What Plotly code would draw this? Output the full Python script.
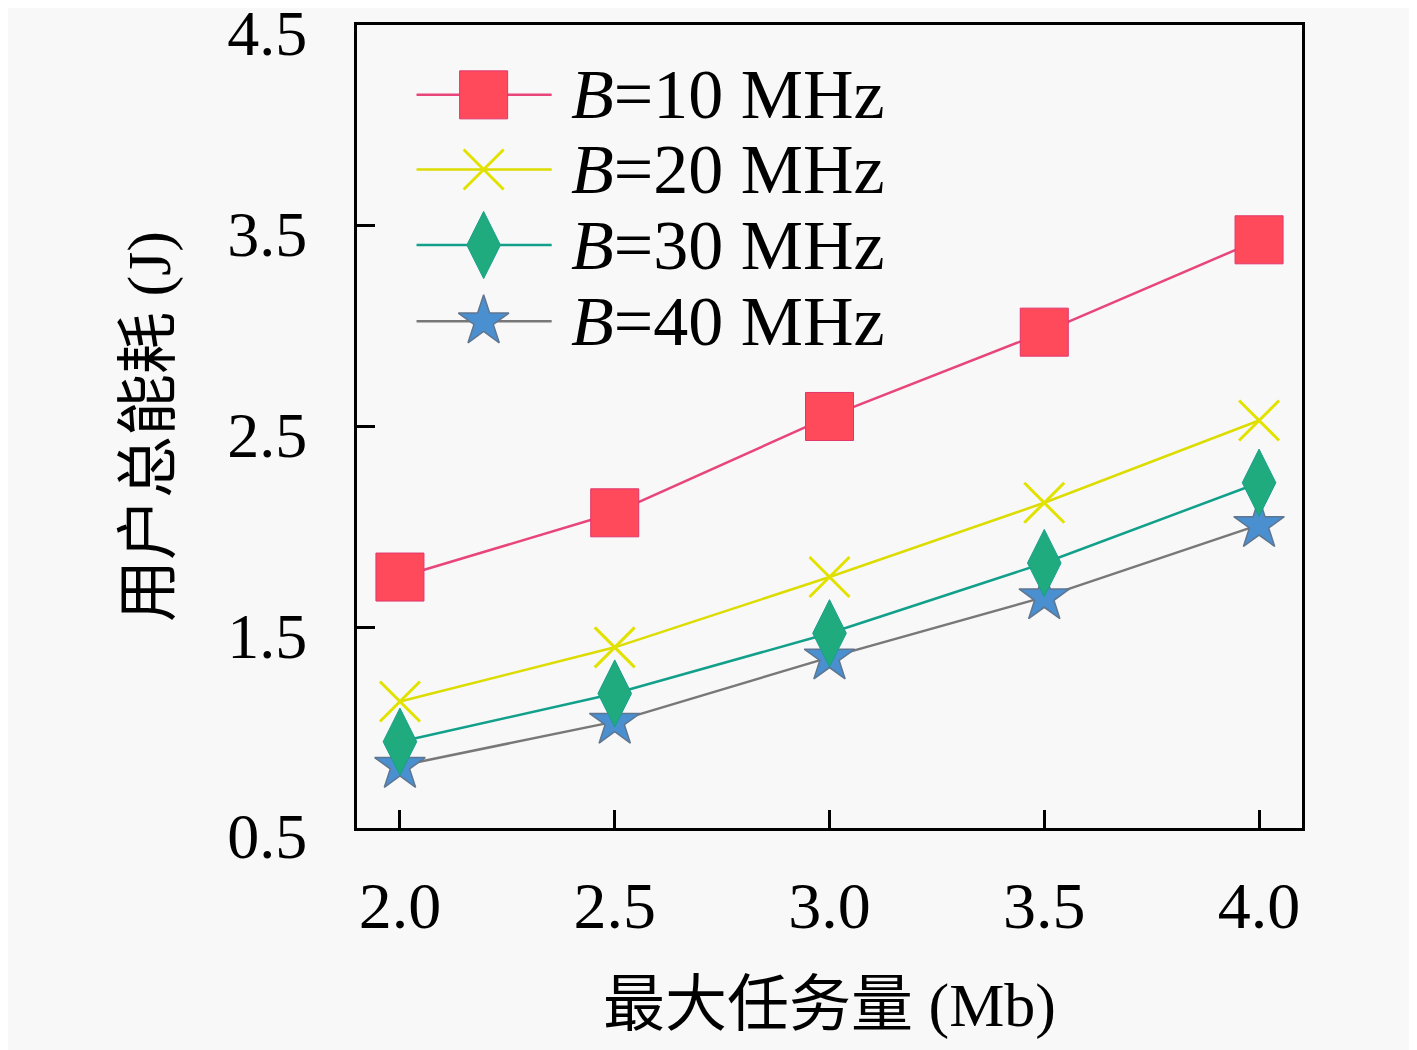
import plotly.graph_objects as go

# max task size (Mb)
task_sizes = [2.0, 2.5, 3.0, 3.5, 4.0]

# total user energy consumption (J) per bandwidth
energy_b10 = [1.75, 2.07, 2.55, 2.97, 3.43]
energy_b20 = [1.13, 1.40, 1.75, 2.12, 2.53]
energy_b30 = [0.93, 1.17, 1.47, 1.82, 2.22]
energy_b40 = [0.81, 1.03, 1.35, 1.65, 2.01]

series_names = ["<i>B</i>=10 MHz", "<i>B</i>=20 MHz", "<i>B</i>=30 MHz", "<i>B</i>=40 MHz"]

x_ticks = [2.0, 2.5, 3.0, 3.5, 4.0]
x_tick_labels = ["2.0", "2.5", "3.0", "3.5", "4.0"]
y_ticks = [0.5, 1.5, 2.5, 3.5, 4.5]
y_tick_labels = ["0.5", "1.5", "2.5", "3.5", "4.5"]

styles = [
    dict(line="#e8457a", fill="#ff4a5c", edge="#e0356a", symbol="square", size=48, lw=1),
    dict(line="#dcdc00", fill="#e6e600", edge="#e2e200", symbol="x-thin", size=40, lw=3),
    dict(line="#12a08a", fill="#1fab7d", edge="#17a08c", symbol="diamond-tall", size=48, lw=1),
    dict(line="#787878", fill="#4a8fd0", edge="#5f7690", symbol="star", size=38, lw=1.5),
]

all_series = [energy_b10, energy_b20, energy_b30, energy_b40]

SERIF = "Liberation Serif, Noto Sans CJK SC, serif"
BG = "#f8f8f8"

fig = go.Figure()

# draw B=40 first so that earlier series sit on top
for name, vals, st in reversed(list(zip(series_names, all_series, styles))):
    fig.add_trace(go.Scatter(
        x=task_sizes, y=vals, name=name, mode="lines+markers",
        line=dict(color=st["line"], width=2.5),
        marker=dict(symbol=st["symbol"], size=st["size"], color=st["fill"],
                    line=dict(color=st["edge"], width=st["lw"])),
        showlegend=False,
    ))

# hand-made legend keys on an overlay axis (0..1 over the plot area)
legend_rows = [0.913, 0.820, 0.726, 0.631]
key_x0, key_xm, key_x1 = 0.063, 0.134, 0.206
text_x = 0.224
for name, st, ry in zip(series_names, styles, legend_rows):
    fig.add_trace(go.Scatter(
        x=[key_x0, key_x1], y=[ry, ry], mode="lines",
        line=dict(color=st["line"], width=2.5),
        xaxis="x2", yaxis="y2", showlegend=False, hoverinfo="skip",
    ))
    fig.add_trace(go.Scatter(
        x=[key_xm], y=[ry], mode="markers",
        marker=dict(symbol=st["symbol"], size=st["size"], color=st["fill"],
                    line=dict(color=st["edge"], width=st["lw"])),
        xaxis="x2", yaxis="y2", showlegend=False, hoverinfo="skip",
    ))
    fig.add_annotation(
        x=text_x, y=ry, xref="x domain", yref="y domain", text=name,
        showarrow=False, xanchor="left", yanchor="middle",
        font=dict(family=SERIF, size=70, color="black"),
    )

# page has an 8px body margin, so the figure is a bit smaller than the window
fig.update_layout(
    width=1409, height=1042,
    margin=dict(l=349, r=115, t=17, b=222),
    paper_bgcolor=BG, plot_bgcolor=BG,
    font=dict(family=SERIF, color="black"),
    xaxis=dict(
        range=[1.9, 4.1], tickvals=x_ticks, ticktext=x_tick_labels,
        ticks="inside", ticklen=18, tickwidth=3, tickcolor="black",
        showline=True, linewidth=3, linecolor="black", mirror=True,
        showgrid=False, zeroline=False, ticklabelstandoff=18,
        ticklabeloverflow="allow", automargin=False,
        tickfont=dict(family=SERIF, size=66),
        title=dict(text="最大任务量 (Mb)", standoff=42,
                   font=dict(family=SERIF, size=62)),
    ),
    yaxis=dict(
        range=[0.5, 4.5], tickvals=y_ticks, ticktext=y_tick_labels,
        ticks="inside", ticklen=18, tickwidth=3, tickcolor="black",
        showline=True, linewidth=3, linecolor="black", mirror=True,
        showgrid=False, zeroline=False, ticklabelstandoff=34,
        ticklabelshift=8,
        ticklabeloverflow="allow", automargin=False,
        tickfont=dict(family=SERIF, size=64),
        title=dict(text="用户总能耗 (J)", standoff=37,
                   font=dict(family=SERIF, size=62)),
    ),
    xaxis2=dict(overlaying="x", range=[0, 1], visible=False, fixedrange=True),
    yaxis2=dict(overlaying="y", range=[0, 1], visible=False, fixedrange=True),
)

fig.write_html("out.html")
